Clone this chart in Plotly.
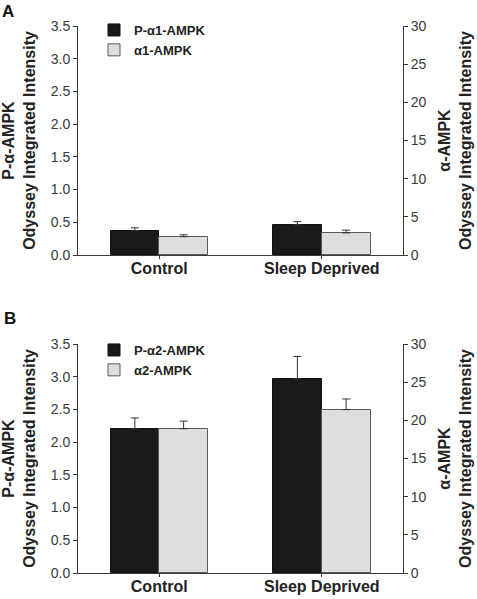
import plotly.graph_objects as go

# ---------------- data ----------------
categories = ["Control", "Sleep Deprived"]

# Panel A (alpha1)
p_alpha1 = [0.37, 0.46]          # left axis, P-α-AMPK
p_alpha1_err = [0.045, 0.05]
alpha1 = [2.4, 2.9]              # right axis, α-AMPK
alpha1_err = [0.25, 0.35]

# Panel B (alpha2)
p_alpha2 = [2.20, 2.97]
p_alpha2_err = [0.17, 0.34]
alpha2 = [18.9, 21.4]
alpha2_err = [1.0, 1.4]

left_ticks = [0.0, 0.5, 1.0, 1.5, 2.0, 2.5, 3.0, 3.5]
left_ticklabels = ["0.0", "0.5", "1.0", "1.5", "2.0", "2.5", "3.0", "3.5"]
right_ticks = [0, 5, 10, 15, 20, 25, 30]

# ---------------- styling ----------------
FONT = "Liberation Sans, Arial, Helvetica, sans-serif"
AXC = "#3a3a3a"
BLACK = "#1a1a1a"
GREY = "#dedede"
GREY_LINE = "#5a5a5a"

fig = go.Figure()

def add_panel(p_vals, p_err, a_vals, a_err, p_name, a_name, xa, ya_l, ya_r, legend):
    fig.add_trace(go.Bar(
        x=categories, y=p_vals, name=p_name,
        xaxis=xa, yaxis=ya_l, legend=legend,
        offset=-0.3, width=0.3,
        marker=dict(color=BLACK, line=dict(color="#111111", width=1)),
        error_y=dict(type="data", array=p_err, arrayminus=[0] * len(p_err),
                     symmetric=False, color="#333333", thickness=1, width=4),
    ))
    fig.add_trace(go.Bar(
        x=categories, y=a_vals, name=a_name,
        xaxis=xa, yaxis=ya_r, legend=legend,
        offset=0.0, width=0.3,
        marker=dict(color=GREY, line=dict(color=GREY_LINE, width=1)),
        error_y=dict(type="data", array=a_err, arrayminus=[0] * len(a_err),
                     symmetric=False, color="#333333", thickness=1, width=4),
    ))

add_panel(p_alpha1, p_alpha1_err, alpha1, alpha1_err,
          "P-α1-AMPK", "α1-AMPK", "x", "y", "y2", "legend")
add_panel(p_alpha2, p_alpha2_err, alpha2, alpha2_err,
          "P-α2-AMPK", "α2-AMPK", "x2", "y3", "y4", "legend2")

W, H = 477, 599
PL, PR, PT, PB = 78, 403, 26, 573      # plot area in window pixels
ML, MR, MT, MB = PL, W - PR, PT, H - PB
plot_h = H - MT - MB
plot_w = W - ML - MR

def ypaper(py):
    return (PB - py) / plot_h

def xpaper(px):
    return (px - PL) / plot_w

domA = [ypaper(255), 1.0]
domB = [0.0, ypaper(344)]

xcommon = dict(
    type="category", range=[-0.5, 1.5], showgrid=False, zeroline=False,
    showline=True, linecolor=AXC, linewidth=1,
    ticks="outside", ticklen=3, tickcolor=AXC, ticklabelstandoff=-4,
    tickfont=dict(family=FONT, size=16, color="#222222", weight="bold"),
)
left_title = dict(text="P-α-AMPK<br>Odyssey Integrated Intensity",
                  font=dict(family=FONT, size=16, color="#222222", weight="bold"),
                  standoff=12)
right_title = dict(text="α-AMPK<br>Odyssey Integrated Intensity",
                   font=dict(family=FONT, size=16, color="#222222", weight="bold"),
                   standoff=13)
ycommon = dict(
    showgrid=False, zeroline=False, showline=True, linecolor=AXC, linewidth=1,
    ticks="outside", ticklen=4, tickcolor=AXC,
    tickfont=dict(family=FONT, size=14, color="#3a3a3a"),
)

fig.update_layout(
    width=W, height=H,
    margin=dict(l=ML, r=MR, t=MT, b=MB, autoexpand=False),
    paper_bgcolor="white", plot_bgcolor="white",
    font=dict(family=FONT),
    bargap=0, barmode="group",
    xaxis=dict(domain=[0, 1], anchor="y", **xcommon),
    xaxis2=dict(domain=[0, 1], anchor="y3", **xcommon),
    yaxis=dict(domain=domA, anchor="x", range=[0, 3.5],
               tickvals=left_ticks, ticktext=left_ticklabels,
               title=left_title, **ycommon),
    yaxis2=dict(domain=domA, anchor="x", overlaying="y", side="right",
                range=[0, 30], tickvals=right_ticks,
                title=right_title, **ycommon),
    yaxis3=dict(domain=domB, anchor="x2", range=[0, 3.5],
                tickvals=left_ticks, ticktext=left_ticklabels,
                title=left_title, **ycommon),
    yaxis4=dict(domain=domB, anchor="x2", overlaying="y3", side="right",
                range=[0, 30], tickvals=right_ticks,
                title=right_title, **ycommon),
    legend=dict(x=xpaper(94), xanchor="left", y=ypaper(15), yanchor="top",
                bgcolor="rgba(0,0,0,0)", traceorder="normal",
                font=dict(family=FONT, size=13, color="#222222", weight="bold")),
    legend2=dict(x=xpaper(94), xanchor="left", y=ypaper(335), yanchor="top",
                 bgcolor="rgba(0,0,0,0)", traceorder="normal",
                 font=dict(family=FONT, size=13, color="#222222", weight="bold")),
    annotations=[
        dict(text="A", x=xpaper(8), y=ypaper(11), xref="paper", yref="paper",
             xanchor="center", yanchor="middle", showarrow=False,
             font=dict(family=FONT, size=17, color="#111111", weight="bold")),
        dict(text="B", x=xpaper(10), y=ypaper(318), xref="paper", yref="paper",
             xanchor="center", yanchor="middle", showarrow=False,
             font=dict(family=FONT, size=17, color="#111111", weight="bold")),
    ],
)

fig.write_html(
    "out.html",
    config={"displayModeBar": False},
    post_script="document.body.style.margin='0px';document.body.style.overflow='hidden';",
)
